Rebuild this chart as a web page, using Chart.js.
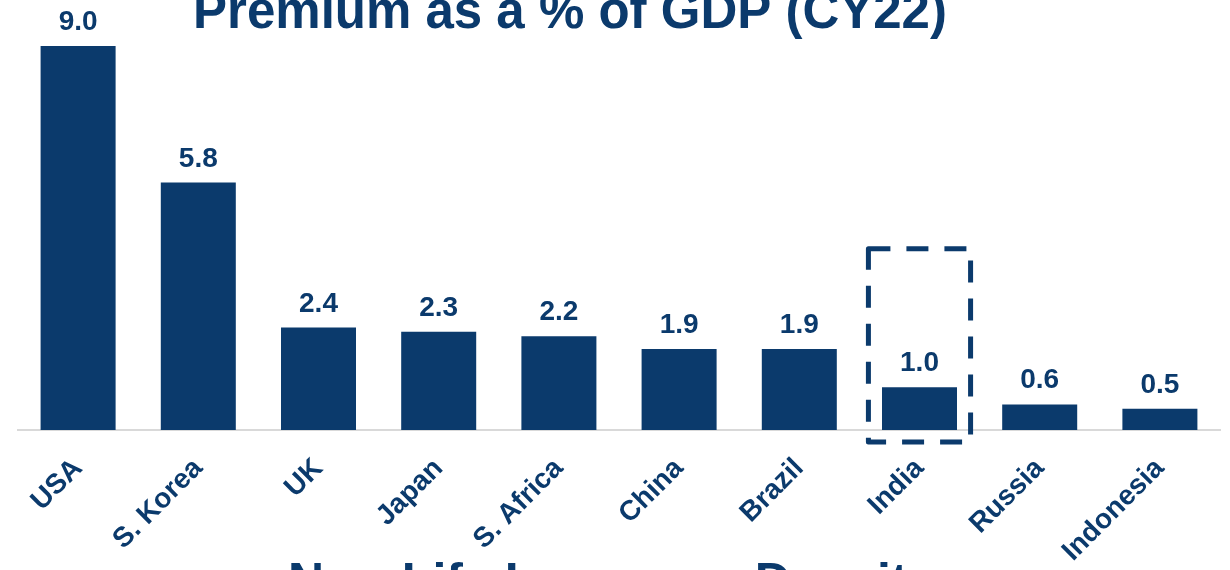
<!DOCTYPE html>
<html>
<head>
<meta charset="utf-8">
<script src="https://cdn.jsdelivr.net/npm/chart.js@4.4.1/dist/chart.umd.min.js"></script>
<style>
  html, body { margin: 0; padding: 0; background: #fff; overflow: hidden; }
  #wrap { width: 1230px; height: 570px; position: relative; }
</style>
</head>
<body>
<div id="wrap"><canvas id="chart" width="1230" height="570"></canvas></div>
<script>
const NAVY = '#0b3a6c'
const FONT = "Arial, 'Liberation Sans', sans-serif"

const categories = ['USA', 'S. Korea', 'UK', 'Japan', 'S. Africa', 'China', 'Brazil', 'India', 'Russia', 'Indonesia']
const premiumPct = [9.0, 5.8, 2.4, 2.3, 2.2, 1.9, 1.9, 1.0, 0.6, 0.5]
const highlighted = 'India'
const chartTitle = 'Premium as a % of GDP (CY22)'
const nextTitle = 'Non-Life Insurance Density'

// value labels over each bar
const barValues = {
  id: 'barValues',
  afterDatasetsDraw(chart) {
    const { ctx } = chart
    const meta = chart.getDatasetMeta(0)
    ctx.save()
    ctx.fillStyle = NAVY
    ctx.font = `bold 28px ${FONT}`
    ctx.textAlign = 'center'
    ctx.textBaseline = 'alphabetic'
    meta.data.forEach((bar, i) => {
      ctx.fillText(premiumPct[i].toFixed(1), bar.x, bar.y - 16)
    })
    ctx.restore()
  }
}

// dashed box around the highlighted country
const highlightBox = {
  id: 'highlightBox',
  afterDatasetsDraw(chart) {
    const { ctx, scales: { x, y } } = chart
    const idx = categories.indexOf(highlighted)
    const cx = x.getPixelForValue(idx)
    const half = (x.getPixelForValue(1) - x.getPixelForValue(0)) * 0.425
    const top = y.getPixelForValue(4.25)
    const bottom = y.getPixelForValue(0) + 12
    ctx.save()
    ctx.strokeStyle = NAVY
    ctx.lineWidth = 5
    ctx.setLineDash([22, 16])
    ctx.lineJoin = 'round'
    ctx.strokeRect(cx - half, top, half * 2, bottom - top)
    ctx.restore()
  }
}

// slide headings, clipped by the frame like the original
const headings = {
  id: 'headings',
  afterDraw(chart) {
    const { ctx } = chart
    ctx.save()
    ctx.fillStyle = NAVY
    ctx.textBaseline = 'alphabetic'
    ctx.font = `bold 51px ${FONT}`
    ctx.textAlign = 'center'
    ctx.fillText(chartTitle, 570, 28)
    ctx.font = `bold 50px ${FONT}`
    ctx.textAlign = 'left'
    ctx.fillText(nextTitle, 288, 598)
    ctx.restore()
  }
}

new Chart(document.getElementById('chart'), {
  type: 'bar',
  data: {
    labels: categories,
    datasets: [{
      data: premiumPct,
      backgroundColor: NAVY,
      barPercentage: 0.624,
      categoryPercentage: 1
    }]
  },
  options: {
    responsive: false,
    animation: false,
    layout: { padding: { top: 46, left: 18, right: 10, bottom: 0 } },
    plugins: {
      legend: { display: false },
      tooltip: { enabled: false }
    },
    scales: {
      y: {
        display: false,
        min: 0,
        max: 9
      },
      x: {
        grid: { display: false, drawTicks: false },
        border: { display: true, color: '#d9d9d9', width: 2 },
        ticks: {
          color: NAVY,
          font: { family: FONT, size: 28, weight: 'bold' },
          minRotation: 45,
          maxRotation: 45,
          padding: 22
        },
        afterFit(scale) {
          scale.height = 140
        }
      }
    }
  },
  plugins: [barValues, highlightBox, headings]
})
</script>
</body>
</html>
